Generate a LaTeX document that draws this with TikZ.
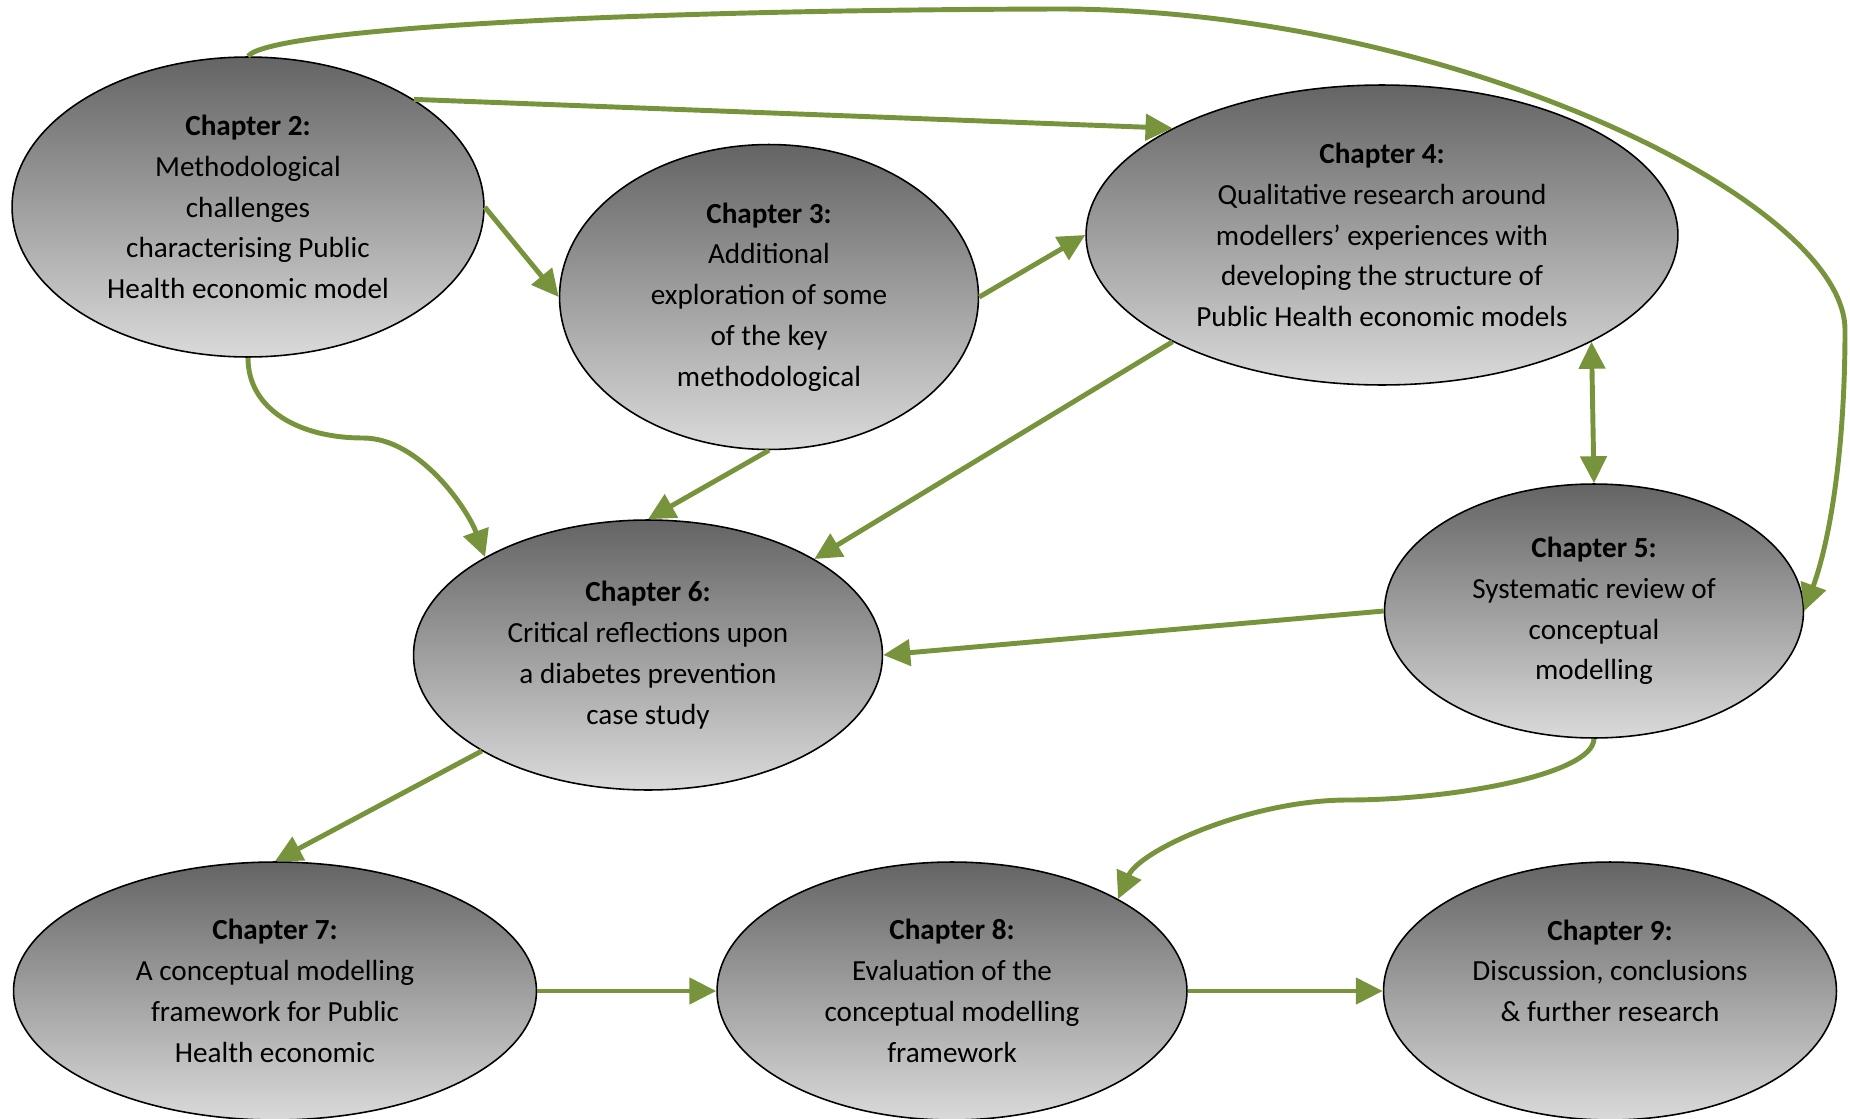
\documentclass[tikz,border=0pt]{standalone}
\usepackage{fontspec}
\setmainfont{Carlito}
\usetikzlibrary{shapes.geometric,arrows.meta}
\definecolor{linkgreen}{RGB}{119,147,60}
\definecolor{chaptop}{RGB}{100,100,100}
\definecolor{chapbot}{RGB}{218,218,218}
\begin{document}
\begin{tikzpicture}[x=0.02cm,y=-0.02cm,>={Triangle[length=0.54cm,width=0.52cm]},
  chapter/.style={ellipse,draw=black,line width=0.9pt,top color=chaptop,bottom color=chapbot,
    inner sep=0pt,align=center,font=\fontsize{16.6}{23.2}\selectfont},
  link/.style={draw=linkgreen,line width=2.8pt}]
  \useasboundingbox (0,0) rectangle (1850,1119);
  \path
  (248,207) node[chapter,minimum width=9.44cm,minimum height=6cm] (C2) {%
    \textbf{Chapter 2:}\\Methodological\\challenges\\characterising Public\\Health economic model}
  (769,297) node[chapter,minimum width=8.38cm,minimum height=6.1cm] (C3) {%
    \textbf{Chapter 3:}\\Additional\\exploration of some\\of the key\\methodological}
  (1382,235) node[chapter,minimum width=11.84cm,minimum height=6cm] (C4) {%
    \textbf{Chapter 4:}\\Qualitative research around\\modellers’ experiences with\\developing the structure of\\Public Health economic models}
  (1594,611) node[chapter,minimum width=8.38cm,minimum height=5.08cm] (C5) {%
    \textbf{Chapter 5:}\\Systematic review of\\conceptual\\modelling}
  (648,655) node[chapter,minimum width=9.38cm,minimum height=5.4cm] (C6) {%
    \textbf{Chapter 6:}\\Critical reflections upon\\a diabetes prevention\\case study}
  (275,991) node[chapter,minimum width=10.46cm,minimum height=5.16cm] (C7) {%
    \textbf{Chapter 7:}\\A conceptual modelling\\framework for Public\\Health economic}
  (952,991) node[chapter,minimum width=9.4cm,minimum height=5.16cm] (C8) {%
    \textbf{Chapter 8:}\\Evaluation of the\\conceptual modelling\\framework}
  (1610,991) node[chapter,minimum width=9.06cm,minimum height=5.16cm] (C9) {%
    \textbf{Chapter 9:}\\Discussion, conclusions\\\& further research\\[-7pt]\strut};

  \draw[->,link] (C2.north) .. controls (268,30) and (600,10) .. (1062,9)
    .. controls (1450,10) and (1845,200) .. (1845,330)
    .. controls (1845,450) and (1830,540) .. (C5.east);
  \draw[->,link] (C2.33) -- (C4.153);
  \draw[->,link] (C2.east) -- (C3.west);
  \draw[->,link] (C3.east) -- (C4.west);
  \draw[->,link] (C2.south) .. controls (248,410) and (300,438) .. (363,438)
    .. controls (420,438) and (468,510) .. (C6.149);
  \draw[->,link] (C3.south) -- (C6.north);
  \draw[->,link] (C4.207) -- (C6.30);
  \draw[<->,link] (C4.-27) -- (C5.north);
  \draw[->,link] (C5.west) -- (C6.east);
  \draw[->,link] (C6.210) -- (C7.north);
  \draw[->,link] (C5.south) .. controls (1593,775) and (1450,800) .. (1348,800)
    .. controls (1250,800) and (1140,850) .. (C8.29);
  \draw[->,link] (C7.east) -- (C8.west);
  \draw[->,link] (C8.east) -- (C9.west);
\end{tikzpicture}
\end{document}
